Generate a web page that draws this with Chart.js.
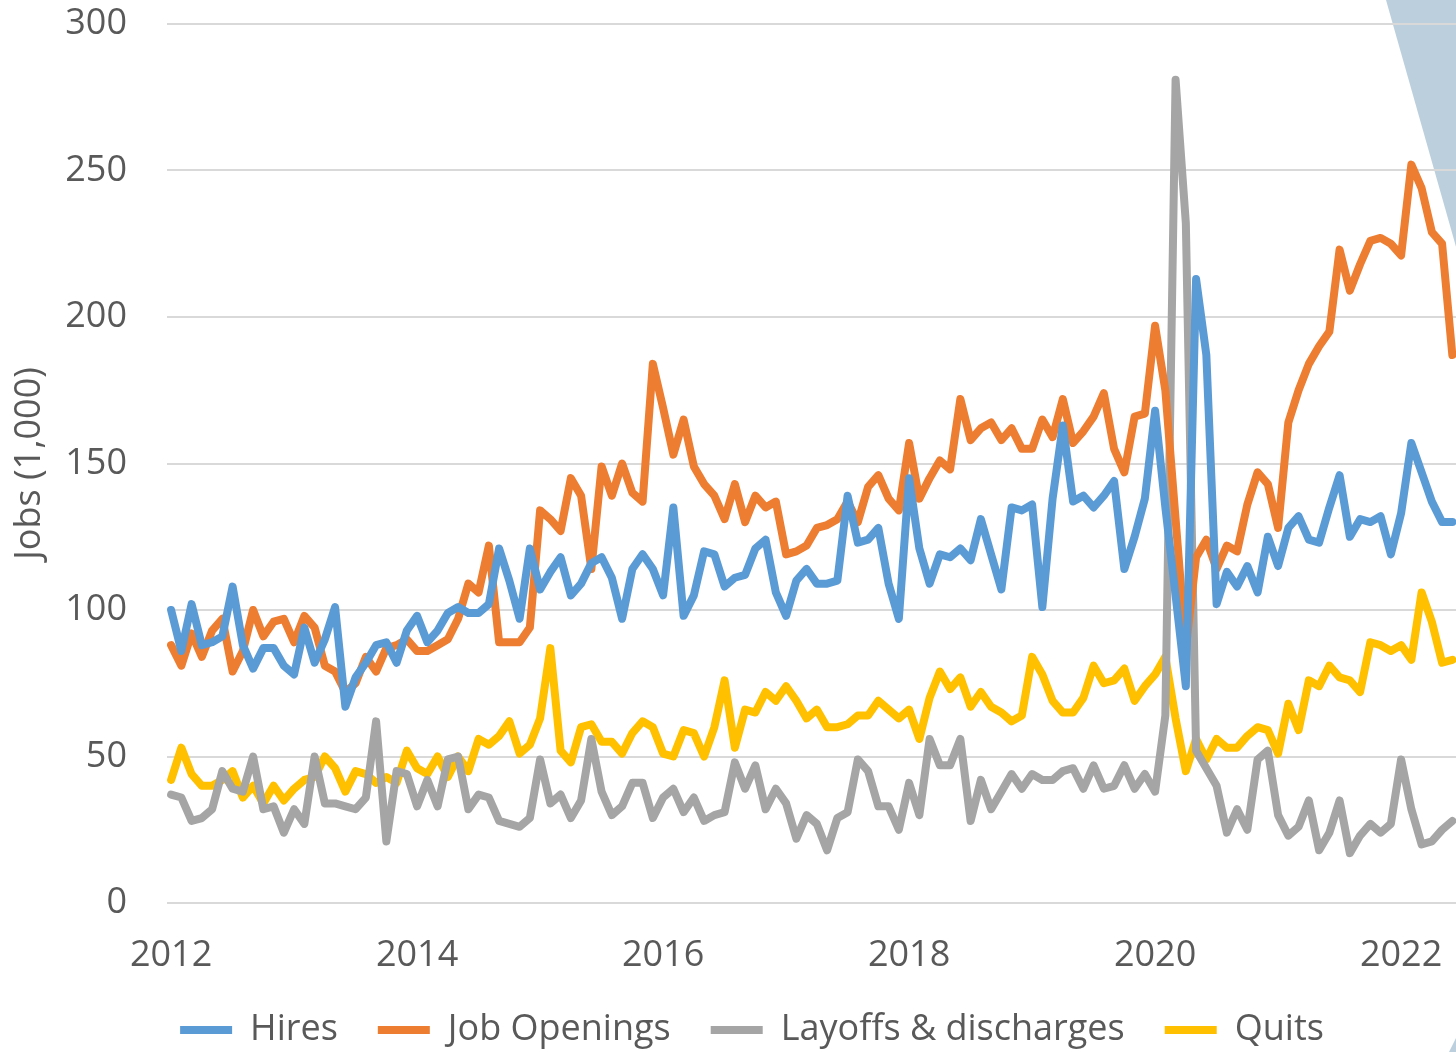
<!DOCTYPE html>
<html lang="en">
<head>
  <meta charset="UTF-8" />
  <title>Job flows 2012-2022</title>
  <script src="https://cdn.jsdelivr.net/npm/chart.js"></script>
  <style>
    html, body { margin: 0; padding: 0; background: #fff; overflow: hidden; }
    /* the reference is a crop: the chart runs on past the right edge */
    #frame { width: 1456px; height: 1052px; overflow: hidden; }
    #jobsChart { display: block; }
  </style>
</head>
<body>
  <div id="frame"><canvas id="jobsChart" width="1504" height="1058"></canvas></div>

  <script>
    // monthly values from Jan 2012, jobs (1,000)
    const hires = [
      100, 86, 102, 88, 89, 91, 108, 88, 80, 87, 87, 81,
      78, 94, 82, 90, 101, 67, 77, 82, 88, 89, 82, 93,
      98, 89, 93, 99, 101, 99, 99, 102, 121, 110, 97, 121,
      107, 113, 118, 105, 109, 116, 118, 111, 97, 114, 119, 114,
      105, 135, 98, 105, 120, 119, 108, 111, 112, 121, 124, 106,
      98, 110, 114, 109, 109, 110, 139, 123, 124, 128, 109, 97,
      145, 121, 109, 119, 118, 121, 117, 131, 119, 107, 135, 134,
      136, 101, 138, 163, 137, 139, 135, 139, 144, 114, 125, 138,
      168, 135, 105, 74, 213, 187, 102, 113, 108, 115, 106, 125,
      115, 128, 132, 124, 123, 135, 146, 125, 131, 130, 132, 119,
      133, 157, 147, 137, 130, 130
    ];
    const jobOpenings = [
      88, 81, 92, 84, 93, 97, 79, 86, 100, 91, 96, 97,
      89, 98, 94, 81, 79, 72, 75, 84, 79, 87, 88, 90,
      86, 86, 88, 90, 97, 109, 106, 122, 89, 89, 89, 94,
      134, 131, 127, 145, 139, 114, 149, 139, 150, 140, 137, 184,
      169, 153, 165, 149, 143, 139, 131, 143, 130, 139, 135, 137,
      119, 120, 122, 128, 129, 131, 137, 130, 142, 146, 138, 134,
      157, 138, 145, 151, 148, 172, 158, 162, 164, 158, 162, 155,
      155, 165, 159, 172, 157, 161, 166, 174, 155, 147, 166, 167,
      197, 175, 131, 87, 118, 124, 114, 122, 120, 136, 147, 143,
      128, 164, 175, 184, 190, 195, 223, 209, 218, 226, 227, 225,
      221, 252, 244, 229, 225, 187
    ];
    const layoffs = [
      37, 36, 28, 29, 32, 45, 39, 38, 50, 32, 33, 24,
      32, 27, 50, 34, 34, 33, 32, 36, 62, 21, 45, 44,
      33, 42, 33, 49, 50, 32, 37, 36, 28, 27, 26, 29,
      49, 34, 37, 29, 35, 56, 38, 30, 33, 41, 41, 29,
      36, 39, 31, 36, 28, 30, 31, 48, 39, 47, 32, 39,
      34, 22, 30, 27, 18, 29, 31, 49, 45, 33, 33, 25,
      41, 30, 56, 47, 47, 56, 28, 42, 32, 38, 44, 39,
      44, 42, 42, 45, 46, 39, 47, 39, 40, 47, 39, 44,
      38, 64, 281, 232, 52, 46, 40, 24, 32, 25, 49, 52,
      30, 23, 26, 35, 18, 24, 35, 17, 23, 27, 24, 27,
      49, 32, 20, 21, 25, 28
    ];
    const quits = [
      42, 53, 44, 40, 40, 42, 45, 36, 40, 34, 40, 35,
      39, 42, 43, 50, 46, 38, 45, 44, 41, 43, 41, 52,
      46, 44, 50, 43, 50, 45, 56, 54, 57, 62, 51, 54,
      63, 87, 52, 48, 60, 61, 55, 55, 51, 58, 62, 60,
      51, 50, 59, 58, 50, 60, 76, 53, 66, 65, 72, 69,
      74, 69, 63, 66, 60, 60, 61, 64, 64, 69, 66, 63,
      66, 56, 70, 79, 73, 77, 67, 72, 67, 65, 62, 64,
      84, 78, 69, 65, 65, 70, 81, 75, 76, 80, 69, 74,
      78, 84, 63, 45, 56, 49, 56, 53, 53, 57, 60, 59,
      51, 68, 59, 76, 74, 81, 77, 76, 72, 89, 88, 86,
      88, 83, 106, 96, 82, 83
    ];
    const startYear = 2012;
    const yearTicks = [2012, 2014, 2016, 2018, 2020, 2022];

    // month number since Jan 2012, used as x value
    const months = hires.map((v, i) => i);

    const textColor = "#595959";
    const font = { family: "'Open Sans', sans-serif", size: 36 };

    // light blue callout shape that sneaks in from the right edge
    const calloutShape = {
      id: "calloutShape",
      beforeDraw(chart) {
        const ctx = chart.ctx;
        const w = chart.width, h = chart.height;
        ctx.save();
        ctx.fillStyle = "#bccfdd";
        ctx.beginPath();
        ctx.moveTo(w - 118, 0);
        ctx.lineTo(w, 0);
        ctx.lineTo(w, 416);
        ctx.closePath();
        ctx.fill();
        ctx.beginPath();
        ctx.moveTo(w - 58, h);
        ctx.lineTo(w, h - 116);
        ctx.lineTo(w, h);
        ctx.closePath();
        ctx.fill();
        ctx.restore();
      }
    };

    function series(label, values, color) {
      return {
        label: label,
        data: values,
        borderColor: color,
        backgroundColor: color,
        borderWidth: 8,
        borderJoinStyle: "round",
        borderCapStyle: "round",
        pointRadius: 0,
        tension: 0
      };
    }

    new Chart(document.getElementById("jobsChart").getContext("2d"), {
      type: "line",
      data: {
        labels: months,
        datasets: [
          series("Hires", hires, "#5b9bd5"),
          series("Job Openings", jobOpenings, "#ed7d31"),
          series("Layoffs & discharges", layoffs, "#a5a5a5"),
          series("Quits", quits, "#ffc000")
        ]
      },
      options: {
        responsive: false,
        animation: false,
        devicePixelRatio: 1,
        layout: { autoPadding: false, padding: { top: 24, left: 0, right: 0, bottom: 0 } },
        plugins: {
          legend: {
            position: "bottom",
            labels: {
              usePointStyle: true,
              pointStyle: "line",
              pointStyleWidth: 52,
              padding: 40,
              color: textColor,
              font: font
            }
          },
          tooltip: { enabled: false }
        },
        scales: {
          x: {
            type: "linear",
            min: -0.4,
            max: 130.04,
            grid: { display: false },
            border: { display: false },
            afterBuildTicks(scale) {
              scale.ticks = yearTicks.map(y => ({ value: (y - startYear) * 12 }));
            },
            afterFit(scale) { scale.height = 69; },
            ticks: {
              autoSkip: false,
              maxRotation: 0,
              padding: 23,
              color: textColor,
              font: font,
              callback: v => String(startYear + v / 12)
            }
          },
          y: {
            min: 0,
            max: 300,
            border: { display: false },
            grid: { color: "#d9d9d9", lineWidth: 2, drawTicks: false },
            afterFit(scale) {
              scale.width = 167;
              scale.paddingTop = 0;
              scale.paddingBottom = 0;
            },
            ticks: { stepSize: 50, padding: 40, color: textColor, font: font },
            title: {
              display: true,
              text: "Jobs (1,000)",
              color: textColor,
              font: font,
              padding: { top: 8, bottom: 14 }
            }
          }
        }
      },
      plugins: [calloutShape]
    });
  </script>
</body>
</html>
